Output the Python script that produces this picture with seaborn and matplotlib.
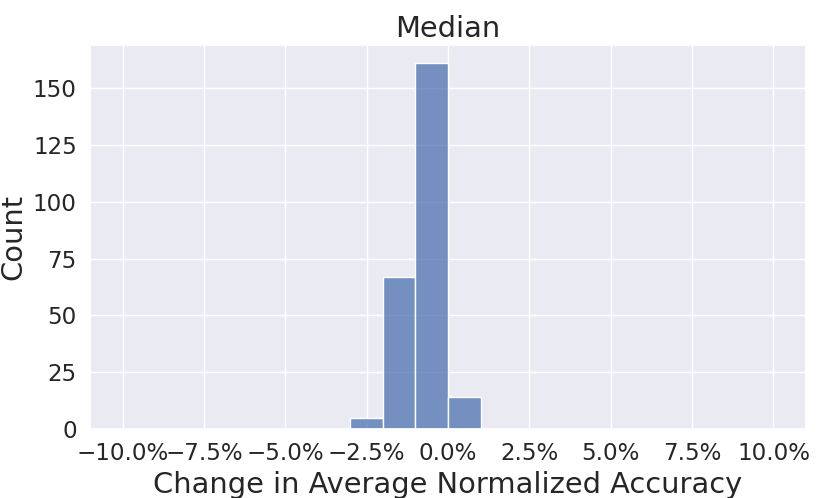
import numpy as np
import pandas as pd
import matplotlib
matplotlib.use("Agg")
import matplotlib.pyplot as plt
import seaborn as sns
from matplotlib.ticker import PercentFormatter

# Histogram data (bin centers in fraction units, counts)
bin_edges = [-0.03, -0.02, -0.01, 0.0, 0.01]
bin_centers = [-0.025, -0.015, -0.005, 0.005]
counts = [5, 67, 161, 14]
x_ticks = [-0.10, -0.075, -0.05, -0.025, 0.0, 0.025, 0.05, 0.075, 0.10]

sns.set_theme(style="darkgrid")

df = pd.DataFrame({"change": bin_centers, "count": counts})

fig = plt.figure(figsize=(8.3, 4.98), dpi=100)
ax = fig.add_axes([90/830, 1-429/498, (806-90)/830, (429-45)/498])
sns.histplot(data=df, x="change", weights="count", bins=bin_edges, ax=ax)
ax.set_xlim(-0.11, 0.11)
ax.set_xticks(x_ticks)
ax.xaxis.set_major_formatter(PercentFormatter(xmax=1.0, decimals=1))
ax.set_title("Median", fontsize=20.8)
ax.set_xlabel("Change in Average Normalized Accuracy", fontsize=20.8)
ax.set_ylabel("Count", fontsize=20.8)
ax.tick_params(labelsize=16.6)
fig.savefig("out.png", dpi=100)
